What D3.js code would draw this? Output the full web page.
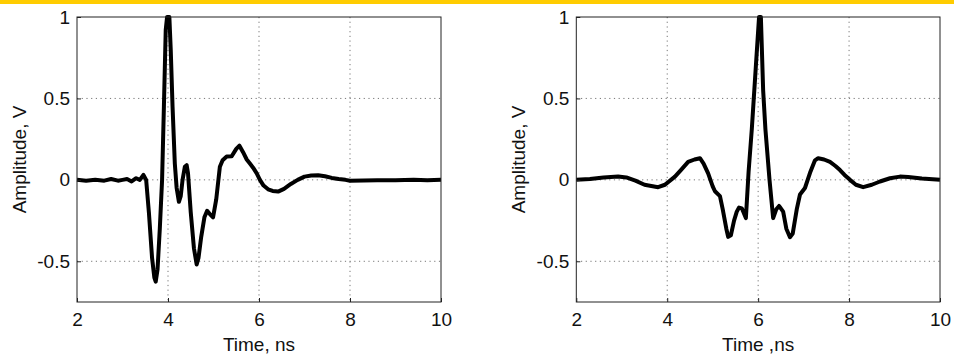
<!DOCTYPE html>
<html>
<head>
<meta charset="utf-8">
<script src="https://cdn.jsdelivr.net/npm/d3@7"></script>
<style>
  body { margin: 0; background: #fff; }
  text { font-family: "Liberation Sans", Arial, sans-serif; fill: #111; }
</style>
</head>
<body>
<script>
    var W = 954
    var H = 355

    // tick values shared by both panels
    var xTicks = [2, 4, 6, 8, 10]
    var yTicks = [-0.5, 0, 0.5, 1]
    var xGrid = [4, 6, 8]
    var yGrid = [-0.5, 0, 0.5]

    // left panel: received pulse (ns, V)
    var timeLeft = [2.0, 2.2, 2.4, 2.6, 2.75, 2.9, 3.0, 3.1, 3.2, 3.3, 3.38, 3.46, 3.52, 3.58, 3.65, 3.70, 3.73,
        3.77, 3.82, 3.87, 3.91, 3.95, 3.98, 4.03, 4.06, 4.1, 4.15, 4.19, 4.24, 4.28, 4.32, 4.37, 4.41, 4.44,
        4.5, 4.57, 4.63, 4.67, 4.73, 4.8, 4.86, 4.92, 4.99, 5.06, 5.14, 5.2, 5.29, 5.4, 5.5, 5.57, 5.65, 5.73,
        5.8, 5.87, 5.95, 6.02, 6.1, 6.2, 6.3, 6.42, 6.55, 6.7, 6.85, 7.0, 7.15, 7.3, 7.45, 7.6, 7.75, 7.9,
        8.0, 8.3, 8.6, 9.0, 9.4, 9.7, 10.0]
    var ampLeft = [0.0, -0.005, 0.0, -0.005, 0.005, -0.005, 0.0, 0.005, -0.01, 0.01, 0.0, 0.03, 0.0, -0.2, -0.48, -0.6, -0.625,
        -0.55, -0.3, 0.0, 0.45, 0.92, 1.0, 1.0, 0.8, 0.45, 0.1, -0.05, -0.135, -0.1, 0.0, 0.08, 0.09, 0.04,
        -0.2, -0.42, -0.52, -0.48, -0.35, -0.23, -0.19, -0.21, -0.23, -0.12, 0.08, 0.12, 0.143, 0.145, 0.19, 0.21, 0.17, 0.125,
        0.1, 0.075, 0.04, 0.0, -0.035, -0.058, -0.068, -0.072, -0.055, -0.025, 0.0, 0.02, 0.027, 0.028, 0.022, 0.012, 0.005, 0.0,
        -0.005, -0.004, -0.002, -0.003, 0.0, -0.002, 0.0]

    // right panel: symmetric pulse (ns, V)
    var timeRight = [2.0, 2.3, 2.6, 2.92, 3.1, 3.3, 3.5, 3.8, 3.95, 4.17, 4.3, 4.46, 4.6, 4.72, 4.8, 4.9, 5.0, 5.05,
        5.16, 5.22, 5.3, 5.34, 5.4, 5.47, 5.53, 5.58, 5.64, 5.68, 5.73, 5.79, 5.86, 5.95, 6.02, 6.06, 6.11, 6.16,
        6.25, 6.33, 6.4, 6.46, 6.55, 6.62, 6.7, 6.76, 6.85, 6.92, 7.03, 7.15, 7.25, 7.32, 7.45, 7.58, 7.7, 7.8,
        7.9, 8.02, 8.15, 8.31, 8.5, 8.68, 8.9, 9.12, 9.3, 9.6, 10.0]
    var ampRight = [0.0, 0.005, 0.015, 0.02, 0.015, -0.005, -0.03, -0.045, -0.03, 0.02, 0.06, 0.11, 0.125, 0.133, 0.1, 0.04, -0.04, -0.07,
        -0.1, -0.18, -0.3, -0.35, -0.34, -0.25, -0.195, -0.17, -0.175, -0.2, -0.235, 0.05, 0.31, 0.7, 1.0, 1.0, 0.55, 0.31,
        0.0, -0.235, -0.18, -0.16, -0.195, -0.3, -0.352, -0.33, -0.18, -0.09, -0.05, 0.05, 0.12, 0.133, 0.125, 0.11, 0.085, 0.06,
        0.03, 0.0, -0.03, -0.045, -0.03, -0.01, 0.01, 0.02, 0.018, 0.008, 0.0]

    var svg = d3.select("body").append("svg").attr("width", W).attr("height", H)

    // yellow strip along the top
    svg.append("rect").attr("x", 0).attr("y", 0).attr("width", W).attr("height", 4).attr("fill", "#ffcc00")

    drawPanel(77, 441, timeLeft, ampLeft, "Time, ns")
    drawPanel(576.3, 940, timeRight, ampRight, "Time ,ns")

    function drawPanel(x0, x1, times, amps, xLabel) {
        var top = 17, bottom = 302
        var x = d3.scaleLinear().domain([2, 10]).range([x0, x1])
        var y = d3.scaleLinear().domain([-0.75, 1]).range([bottom, top])
        var g = svg.append("g")

        // dotted grid
        g.selectAll("line.vgrid").data(xGrid).enter().append("line")
            .attr("x1", function(d) { return x(d) }).attr("x2", function(d) { return x(d) })
            .attr("y1", top).attr("y2", bottom)
            .attr("stroke", "#777").attr("stroke-dasharray", "1.2,3.5")
        g.selectAll("line.hgrid").data(yGrid).enter().append("line")
            .attr("y1", function(d) { return y(d) }).attr("y2", function(d) { return y(d) })
            .attr("x1", x0).attr("x2", x1)
            .attr("stroke", "#777").attr("stroke-dasharray", "1.2,3.5")

        // the trace
        var line = d3.line()
            .x(function(d, i) { return x(times[i]) })
            .y(function(d) { return y(d) })
        g.append("path").datum(amps)
            .attr("d", line)
            .attr("fill", "none").attr("stroke", "#000")
            .attr("stroke-width", 4).attr("stroke-linejoin", "round")

        // box
        g.append("rect").attr("x", x0).attr("y", top).attr("width", x1 - x0).attr("height", bottom - top)
            .attr("fill", "none").attr("stroke", "#222").attr("stroke-width", 1)

        // axes with ticks pointing inside
        var ax = g.append("g").attr("transform", "translate(0," + bottom + ")")
            .call(d3.axisBottom(x).tickValues(xTicks).tickSizeInner(-4).tickSizeOuter(0).tickPadding(11).tickFormat(String))
        var ay = g.append("g").attr("transform", "translate(" + x0 + ",0)")
            .call(d3.axisLeft(y).tickValues(yTicks).tickSizeInner(-4).tickSizeOuter(0).tickPadding(7).tickFormat(String))
        ;[ax, ay].forEach(function(a) {
            a.select(".domain").remove()
            a.selectAll("text").attr("font-size", 19).attr("font-family", null).attr("fill", "#111")
            a.selectAll("line").attr("stroke", "#222")
        })
        ax.selectAll("text").attr("dy", "0.71em")

        // axis titles
        g.append("text").text(xLabel)
            .attr("x", (x0 + x1) / 2).attr("y", 351)
            .attr("text-anchor", "middle").attr("font-size", 19)
        g.append("text").text("Amplitude, V")
            .attr("transform", "translate(" + (x0 - 51) + "," + ((top + bottom) / 2) + ") rotate(-90)")
            .attr("text-anchor", "middle").attr("font-size", 19)
    }
</script>
</body>
</html>
